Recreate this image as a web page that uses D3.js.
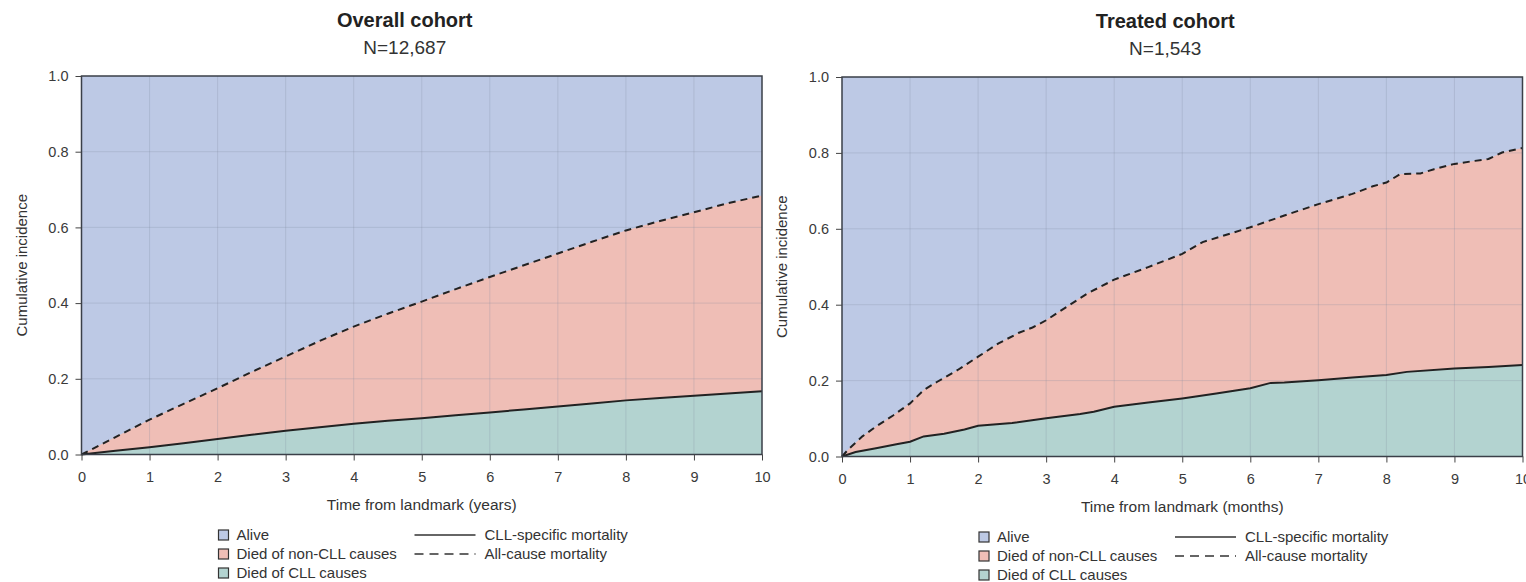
<!DOCTYPE html>
<html>
<head>
<meta charset="utf-8">
<script src="https://cdn.jsdelivr.net/npm/d3@7"></script>
<style>
	body { margin: 0; background: #fff; }
	svg { display: block; font-family: "Liberation Sans", Arial, sans-serif; }
	.tick text { font-size: 14.5px; fill: #3a3a3a; }
</style>
</head>
<body>
<svg id="chart" width="1526" height="582"></svg>
<script>
/* jshint esversion: 6 */
// Overall cohort (years)
const overallTime = [0, 0.5, 1, 1.5, 2, 2.5, 3, 3.5, 4, 4.5, 5, 5.5, 6, 6.5, 7, 7.5, 8, 8.5, 9, 9.5, 10];
const overallAll = [0, 0.046, 0.092, 0.134, 0.175, 0.218, 0.259, 0.300, 0.338, 0.372, 0.404, 0.437, 0.469, 0.500, 0.531, 0.562, 0.592, 0.617, 0.640, 0.664, 0.684];
const overallCll = [0, 0.010, 0.019, 0.030, 0.041, 0.052, 0.063, 0.072, 0.081, 0.089, 0.096, 0.104, 0.111, 0.119, 0.127, 0.135, 0.143, 0.149, 0.155, 0.161, 0.167];

// Treated cohort (months)
const treatedTimeAll = [0, 0.1, 0.3, 0.5, 0.75, 1.0, 1.2, 1.4, 1.7, 2.0, 2.3, 2.6, 2.8, 3.0, 3.3, 3.6, 4.0, 4.5, 5.0, 5.3, 5.7, 6.0, 6.5, 7.0, 7.5, 7.8, 8.0, 8.2, 8.5, 8.7, 9.0, 9.3, 9.5, 9.7, 10];
const treatedAll = [0, 0.02, 0.053, 0.079, 0.108, 0.140, 0.175, 0.197, 0.228, 0.263, 0.298, 0.326, 0.340, 0.359, 0.394, 0.429, 0.466, 0.499, 0.534, 0.565, 0.587, 0.604, 0.635, 0.665, 0.692, 0.712, 0.722, 0.744, 0.746, 0.757, 0.771, 0.779, 0.784, 0.801, 0.813];
const treatedTimeCll = [0, 0.2, 0.5, 0.8, 1.0, 1.2, 1.5, 1.8, 2.0, 2.5, 3.0, 3.5, 3.7, 4.0, 4.5, 5.0, 5.5, 6.0, 6.3, 6.5, 7.0, 7.5, 8.0, 8.3, 9.0, 9.5, 10];
const treatedCll = [0, 0.012, 0.022, 0.032, 0.039, 0.053, 0.060, 0.071, 0.081, 0.088, 0.101, 0.112, 0.118, 0.131, 0.142, 0.153, 0.166, 0.180, 0.194, 0.195, 0.201, 0.208, 0.215, 0.223, 0.232, 0.236, 0.241];

const xTicks = [0, 1, 2, 3, 4, 5, 6, 7, 8, 9, 10];
const yTicks = [0, 0.2, 0.4, 0.6, 0.8, 1.0];

const legendAreas = ["Alive", "Died of non-CLL causes", "Died of CLL causes"];
const legendLines = ["CLL-specific mortality", "All-cause mortality"];

const colors = {alive: "#bdc9e5", other: "#efbeb6", cll: "#b3d3d0"};

const svg = d3.select("#chart");

function zip(xs, ys) {
	return xs.map((t, i) => ({t: t, v: ys[i]}));
}

function drawPanel(p) {
	const x = d3.scaleLinear().domain([0, 10]).range([p.left, p.right]);
	const y = d3.scaleLinear().domain([0, 1]).range([p.bottom, p.top]);
	const g = svg.append("g");

	const allPts = zip(p.timeAll, p.all);
	const cllPts = zip(p.timeCll, p.cll);

	// Alive (background)
	g.append("rect")
		.attr("x", x(0)).attr("y", y(1))
		.attr("width", x(10) - x(0)).attr("height", y(0) - y(1))
		.attr("fill", colors.alive);

	// Died of non-CLL causes: everything under the all-cause curve
	g.append("path")
		.datum(allPts)
		.attr("fill", colors.other)
		.attr("d", d3.area().x(d => x(d.t)).y0(y(0)).y1(d => y(d.v)));

	// Died of CLL causes
	g.append("path")
		.datum(cllPts)
		.attr("fill", colors.cll)
		.attr("d", d3.area().x(d => x(d.t)).y0(y(0)).y1(d => y(d.v)));

	// Grid lines on top of the fills
	g.selectAll(".vgrid")
		.data(xTicks.slice(1, -1))
		.enter().append("line")
			.attr("x1", d => x(d)).attr("x2", d => x(d))
			.attr("y1", y(0)).attr("y2", y(1))
			.attr("stroke", "#7f8aa0").attr("stroke-opacity", 0.25);
	g.selectAll(".hgrid")
		.data(yTicks.slice(1, -1))
		.enter().append("line")
			.attr("x1", x(0)).attr("x2", x(10))
			.attr("y1", d => y(d)).attr("y2", d => y(d))
			.attr("stroke", "#7f8aa0").attr("stroke-opacity", 0.25);

	const line = d3.line().x(d => x(d.t)).y(d => y(d.v));

	g.append("path")
		.datum(cllPts)
		.attr("fill", "none")
		.attr("stroke", "#222")
		.attr("stroke-width", 2)
		.attr("d", line);

	g.append("path")
		.datum(allPts)
		.attr("fill", "none")
		.attr("stroke", "#222")
		.attr("stroke-width", 2)
		.attr("stroke-dasharray", "7,5")
		.attr("d", line);

	// Frame
	g.append("rect")
		.attr("x", x(0)).attr("y", y(1))
		.attr("width", x(10) - x(0)).attr("height", y(0) - y(1))
		.attr("fill", "none").attr("stroke", "#3a3f48").attr("stroke-width", 1.5);

	// Axes
	g.append("g")
		.attr("transform", `translate(0,${y(0)})`)
		.call(d3.axisBottom(x).tickValues(xTicks).tickSize(6).tickPadding(11).tickFormat(d3.format("d")))
		.call(a => a.select(".domain").remove())
		.call(a => a.selectAll("line").attr("stroke", "#444"));

	g.append("g")
		.attr("transform", `translate(${x(0)},0)`)
		.call(d3.axisLeft(y).tickValues(yTicks).tickSize(6).tickPadding(7).tickFormat(d3.format(".1f")))
		.call(a => a.select(".domain").remove())
		.call(a => a.selectAll("line").attr("stroke", "#444"));

	const cx = (p.left + p.right) / 2;
	const tcx = cx - 17;

	// Titles
	g.append("text")
		.attr("x", tcx).attr("y", p.titleY)
		.attr("text-anchor", "middle")
		.style("font-size", "20px").style("font-weight", "bold").attr("fill", "#222")
		.text(p.title);
	g.append("text")
		.attr("x", tcx).attr("y", p.titleY + 27)
		.attr("text-anchor", "middle")
		.style("font-size", "19px").attr("fill", "#333")
		.text(p.subtitle);

	// Axis labels
	g.append("text")
		.attr("transform", `translate(${p.left - 55},${(p.top + p.bottom) / 2}) rotate(-90)`)
		.attr("text-anchor", "middle")
		.style("font-size", "15px").attr("fill", "#333")
		.text("Cumulative incidence");
	g.append("text")
		.attr("x", cx).attr("y", p.bottom + 55)
		.attr("text-anchor", "middle")
		.style("font-size", "15.5px").attr("fill", "#333")
		.text(p.xLabel);

	// Legend
	const lg = g.append("g").attr("transform", `translate(${p.left + 137},${p.legendY})`);
	const areaColors = [colors.alive, colors.other, colors.cll];
	const rowH = 19;
	lg.selectAll(".leg-box")
		.data(legendAreas)
		.enter().append("rect")
			.attr("x", 0).attr("y", (d, i) => i * rowH - 5)
			.attr("width", 10).attr("height", 10)
			.attr("fill", (d, i) => areaColors[i])
			.attr("stroke", "#333").attr("stroke-width", 1.2);
	lg.selectAll(".leg-text")
		.data(legendAreas)
		.enter().append("text")
			.attr("x", 18).attr("y", (d, i) => i * rowH)
			.attr("dy", "0.35em")
			.style("font-size", "15px").attr("fill", "#333")
			.text(d => d);
	lg.selectAll(".leg-line")
		.data(legendLines)
		.enter().append("line")
			.attr("x1", 196).attr("x2", 257)
			.attr("y1", (d, i) => i * rowH).attr("y2", (d, i) => i * rowH)
			.attr("stroke", "#333").attr("stroke-width", 1.5)
			.attr("stroke-dasharray", (d, i) => i === 1 ? "9,6" : null);
	lg.selectAll(".leg-ltext")
		.data(legendLines)
		.enter().append("text")
			.attr("x", 266).attr("y", (d, i) => i * rowH)
			.attr("dy", "0.35em")
			.style("font-size", "15px").attr("fill", "#333")
			.text(d => d);
}

drawPanel({
	left: 81.5, right: 762, top: 76, bottom: 454.5,
	titleY: 26.5,
	timeAll: overallTime, all: overallAll,
	timeCll: overallTime, cll: overallCll,
	title: "Overall cohort", subtitle: "N=12,687",
	xLabel: "Time from landmark (years)",
	legendY: 535
});

drawPanel({
	left: 842, right: 1522.5, top: 77, bottom: 456.5,
	titleY: 28,
	timeAll: treatedTimeAll, all: treatedAll,
	timeCll: treatedTimeCll, cll: treatedCll,
	title: "Treated cohort", subtitle: "N=1,543",
	xLabel: "Time from landmark (months)",
	legendY: 537
});
</script>
</body>
</html>
